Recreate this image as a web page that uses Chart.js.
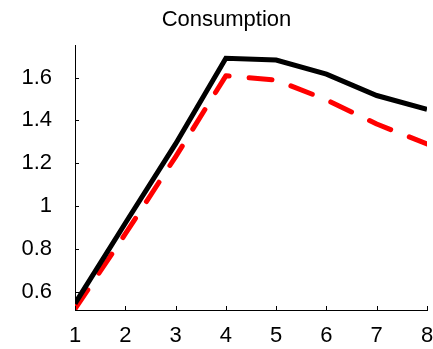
<!DOCTYPE html>
<html>
<head>
<meta charset="utf-8">
<script src="https://cdn.jsdelivr.net/npm/chart.js@4/dist/chart.umd.min.js"></script>
<style>
  html, body { margin: 0; padding: 0; background: #fff; }
  #wrap { width: 433px; height: 349px; }
</style>
</head>
<body>
<div id="wrap"><canvas id="c" width="433" height="349"></canvas></div>
<script>
// Horizon (periods) on the x axis
const periods = [1, 2, 3, 4, 5, 6, 7, 8];
// Solid black path
const solidSeries = [0.545, 0.92, 1.29, 1.69, 1.682, 1.616, 1.516, 1.452];
// Dashed red path
const dashedSeries = [0.52, 0.87, 1.23, 1.608, 1.588, 1.496, 1.383, 1.29];
// Labelled y ticks
const yTicks = [0.6, 0.8, 1, 1.2, 1.4, 1.6];

const FONT = '"Liberation Sans", Arial, Helvetica, sans-serif';

const toPoints = (vals) => vals.map((v, i) => ({ x: periods[i], y: v }));

// Short tick marks pointing into the plot area
const innerTicks = {
  id: 'innerTicks',
  afterDatasetsDraw(chart) {
    const { ctx, chartArea, scales } = chart;
    const len = 4;
    ctx.save();
    ctx.strokeStyle = '#000';
    ctx.lineWidth = 1;
    ctx.beginPath();
    scales.x.ticks.forEach(t => {
      const px = Math.round(scales.x.getPixelForValue(t.value)) + 0.5;
      ctx.moveTo(px, chartArea.bottom);
      ctx.lineTo(px, chartArea.bottom - len);
    });
    scales.y.ticks.forEach(t => {
      const py = Math.round(scales.y.getPixelForValue(t.value)) + 0.5;
      ctx.moveTo(chartArea.left, py);
      ctx.lineTo(chartArea.left + len, py);
    });
    ctx.stroke();
    ctx.restore();
  }
};

new Chart(document.getElementById('c'), {
  type: 'line',
  data: {
    datasets: [
      {
        label: 'solid',
        data: toPoints(solidSeries),
        borderColor: '#000000',
        borderWidth: 5,
        borderJoinStyle: 'miter',
        pointRadius: 0,
        tension: 0,
        fill: false
      },
      {
        label: 'dashed',
        data: toPoints(dashedSeries),
        borderColor: '#ff0000',
        borderWidth: 5,
        borderDash: [23, 20],
        borderCapStyle: 'round',
        borderJoinStyle: 'round',
        pointRadius: 0,
        tension: 0,
        fill: false
      }
    ]
  },
  options: {
    responsive: false,
    animation: false,
    devicePixelRatio: 1,
    layout: { padding: { top: 0, right: 0, left: 20, bottom: 0 } },
    plugins: {
      legend: { display: false },
      tooltip: { enabled: false },
      title: {
        display: true,
        text: 'Consumption',
        color: '#000',
        font: { family: FONT, size: 22, weight: 'normal', lineHeight: 1.2 },
        padding: { top: 7, bottom: 12 }
      }
    },
    scales: {
      x: {
        type: 'linear',
        min: 1,
        max: 8,
        afterBuildTicks(scale) {
          scale.ticks = periods.map(v => ({ value: v }));
        },
        afterFit(scale) {
          scale.height = 39;
          scale.paddingLeft = 0;
          scale.paddingRight = 6;
        },
        ticks: {
          color: '#000',
          padding: 13,
          font: { family: FONT, size: 22 },
          maxRotation: 0,
          callback: (v) => String(v)
        },
        grid: { display: false, drawTicks: false },
        border: { display: true, color: '#000', width: 1 }
      },
      y: {
        type: 'linear',
        min: 0.515,
        max: 1.75,
        afterBuildTicks(scale) {
          scale.ticks = yTicks.map(v => ({ value: v }));
        },
        afterFit(scale) { scale.width = 55; },
        ticks: {
          color: '#000',
          padding: 23,
          font: { family: FONT, size: 22 },
          callback: (v) => String(Math.round(v * 10) / 10)
        },
        grid: { display: false, drawTicks: false },
        border: { display: true, color: '#000', width: 1 }
      }
    }
  },
  plugins: [innerTicks]
});
</script>
</body>
</html>
